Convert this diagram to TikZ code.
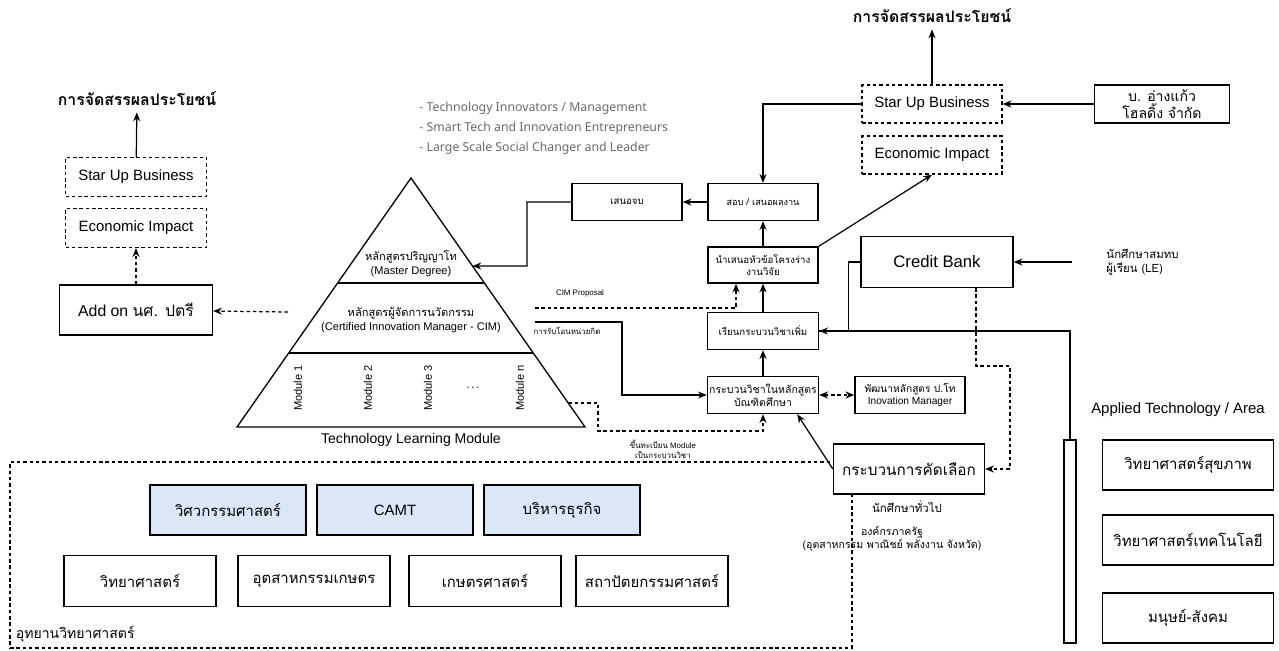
\documentclass[tikz,border=0pt]{standalone}
\usepackage{fontspec}
\setmainfont{Liberation Sans}
\newfontfamily\thai[Script=Thai]{Loma}
\newfontfamily\notefont{Noto Sans}
\usetikzlibrary{arrows.meta,calc}
\definecolor{facblue}{RGB}{218,231,248}
\definecolor{notegray}{RGB}{105,105,105}

\begin{document}
\begin{tikzpicture}[x=0.02cm, y=-0.02cm, >={Stealth[length=5pt,width=4pt]}, line width=0.7pt]

        \tikzstyle{blk}=[rectangle, draw=black, fill=white, line width=0.75pt, align=center, inner sep=1pt]
        \tikzstyle{dblk}=[blk, dash pattern=on 2pt off 1.6pt]
        \tikzstyle{fac}=[blk, fill=facblue]
        \tikzstyle{link}=[->]
        \tikzstyle{dlink}=[->, dash pattern=on 2pt off 1.6pt]
        \tikzset{fontscale/.style = {font={\fontsize{#1pt}{#1pt}\linespread{1.25}\selectfont}}}
        \tikzset{thscale/.style = {font={\fontsize{#1pt}{#1pt}\linespread{1.25}\selectfont\thai}}}
        \tikzset{wh/.style 2 args = {minimum width=#1*0.02cm, minimum height=#2*0.02cm}}

        \useasboundingbox (0,0) rectangle (1279,650);

        % Science park with the faculties
            \node[dblk, fill=none, wh={842}{186}] (park) at (431,555) {};
            \node[thscale=8, anchor=south west] (parklab) at (park.south west) {อุทยานวิทยาศาสตร์};
            \foreach \fx/\fn/\ft in {228/eng/วิศวกรรมศาสตร์, 395/camt/\rmfamily CAMT, 562/biz/บริหารธุรกิจ}
                \node[fac, wh={156}{50}, thscale=8.5] (\fn) at (\fx,510) {\ft};
            \foreach \fx/\fn/\ft in {140/sci/วิทยาศาสตร์, 314/agi/อุตสาหกรรมเกษตร, 485/agr/เกษตรศาสตร์, 652/arch/สถาปัตยกรรมศาสตร์}
                \node[blk, wh={152}{51}, thscale=8.5] (\fn) at (\fx,581) {\ft};

        % Left column: add-on for bachelor students
            \node[thscale=9] (benL) at (137,99) {\bfseries การจัดสรรผลประโยชน์};
            \node[dblk, wh={141}{39}, fontscale=8.5] (startL) at (136,177) {Star Up Business};
            \node[dblk, wh={141}{39}, fontscale=8.5] (econL) at (136,228) {Economic Impact};
            \node[blk, wh={153}{50}, fontscale=9] (addon) at (136,310) {Add on {\thai นศ. ปตรี}};
            \coordinate (cimL) at (288,312);
            \draw[link] (startL) -- (benL);
            \draw[dlink] (addon) -- (econL);
            \draw[dlink] (cimL) -- (addon);

        % Draw the pyramid and its layers
            \coordinate (apex) at (411,178);
            \coordinate (baseL) at (237,427);
            \coordinate (baseR) at (585,427);
            \draw[line width=0.75pt] (apex) -- (baseL) -- (baseR) -- cycle;
            \draw[line width=0.75pt] ($(apex)!0.4217!(baseL)$) -- ($(apex)!0.4217!(baseR)$);
            \draw[line width=0.75pt] ($(apex)!0.7028!(baseL)$) -- ($(apex)!0.7028!(baseR)$);
            \coordinate (mdeg) at ($(apex)!0.3534!(baseR)$);
            \coordinate (mreg) at ($(apex)!0.9036!(baseR)$);
            \node[fontscale=6.3, align=center] (master) at (411,264) {{\thai หลักสูตรปริญญาโท}\\(Master Degree)};
            \node[fontscale=6.3, align=center] (cim) at (411,320) {{\thai หลักสูตรผู้จัดการนวัตกรรม}\\(Certified Innovation Manager - CIM)};
            \foreach \mx/\mt in {298/1, 368/2, 428/3, 520/n}
                \node[fontscale=6.3, rotate=90] (mod-\mt) at (\mx,388) {Module \mt};
            \node[fontscale=6.3] (mdots) at (473,388) {.\,.\,.};
            \node[fontscale=8] (tlm) at (411,440) {Technology Learning Module};
            \node[font=\notefont\fontsize{7}{11.3}\selectfont, text=notegray, align=left, anchor=west] (roles) at (413,128)
                {- Technology Innovators / Management\\- Smart Tech and Innovation Entrepreneurs\\- Large Scale Social Changer and Leader};

        % Middle column: graduate study path
            \node[blk, wh={110}{37}, thscale=5.5] (finish) at (627,202) {เสนอจบ};
            \node[blk, wh={110}{37}, thscale=5.2] (exam) at (763,202) {สอบ / เสนอผลงาน};
            \node[blk, wh={110}{36}, thscale=5.5] (prop) at (763,265) {นำเสนอหัวข้อโครงร่าง\\งานวิจัย};
            \node[blk, wh={111}{37}, thscale=5.5] (extra) at (763,331) {เรียนกระบวนวิชาเพิ่ม};
            \node[blk, wh={111}{37}, thscale=6] (grad) at (763,395) {กระบวนวิชาในหลักสูตร\\บัณฑิตศึกษา};
            \node[blk, wh={110}{37}, fontscale=5.8] (dev) at (910,395) {{\thai พัฒนาหลักสูตร ป.โท}\\Inovation Manager};
            \node[blk, wh={152}{51}, fontscale=9.5] (credit) at (937,262) {Credit Bank};
            \node[blk, wh={151}{50}, thscale=8.7] (select) at (909,469) {กระบวนการคัดเลือก};

        % Top right: spin-off company
            \node[thscale=9] (benR) at (932,16) {\bfseries การจัดสรรผลประโยชน์};
            \node[dblk, wh={140}{38}, fontscale=8.5] (startR) at (932,104) {Star Up Business};
            \node[dblk, wh={140}{38}, fontscale=8.5] (econR) at (932,155) {Economic Impact};
            \node[blk, wh={135}{38}, thscale=8] (angkaew) at (1162,104) {บ. อ่างแก้ว\\โฮลดิ้ง จำกัด};

        % Right column: applied areas
            \node[fontscale=8.5] (applied) at (1178,410) {Applied Technology / Area};
            \foreach \ay/\an/\at in {465/health/วิทยาศาสตร์สุขภาพ, 540/scitech/วิทยาศาสตร์เทคโนโลยี, 618/human/มนุษย์-สังคม}
                \node[blk, wh={171}{50}, thscale=8.5] (\an) at (1188,\ay) {\at};
            \node[blk, wh={12}{203}] (bar) at (1070,541.5) {};

        % Learner labels
            \node[thscale=6.5, align=left, anchor=west] (lejoin) at (1100,262) {นักศึกษาสมทบ\\ผู้เรียน (LE)};
            \coordinate (le) at (1072,262);
            \node[thscale=6.5] (general) at (907,507) {นักศึกษาทั่วไป};
            \node[thscale=6, align=center] (gov) at (892,539) {องค์กรภาครัฐ\\(อุตสาหกรรม พาณิชย์ พลังงาน จังหวัด)};

        % Connect the study path
            \draw[link] (exam) -- (finish);
            \draw[link] (finish.west) -| (527,266) -- (mdeg);
            \draw[link] (startR.west) -| (exam.north);
            \draw[link] (prop) -- (exam);
            \draw[link] (extra) -- (prop);
            \draw[link] (grad) -- (extra);
            \draw[link] (prop.north east) -- (econR.south);
            \draw[link] (startR) -- (benR);
            \draw[link] (angkaew) -- (startR);
            \draw[link] (le) -- (credit);
            \draw (credit.west) -- ++(-12,0) |- (extra.east);
            \draw[link] (bar.north) |- (extra.east);
            \coordinate (cbdrop) at (976,366);
            \draw[dlink] (cbdrop |- credit.south) -- (cbdrop) -- ++(34,0) |- (select.east);
            \draw[link] (select.west) -- ($(grad.south east)+(-22,0)$);
            \draw[dlink, <->] (grad) -- (dev);

        % Links from the pyramid with their labels
            \coordinate (cimp) at (535,308);
            \draw[dlink] (cimp) -| ($(prop.south)+(-27,0)$);
            \node[fontscale=4.5] (cimlab) at (580,293) {CIM Proposal};
            \coordinate (xfer) at (535,322);
            \draw[link] (xfer) -- (622,322) |- (grad.west);
            \node[thscale=4.5] (xferlab) at (567,331) {การรับโอนหน่วยกิต};
            \draw[dlink] (mreg) -| (598,431) -| (grad.south);
            \node[fontscale=4.5, align=center] (reglab) at (663,449) {{\thai ขึ้นทะเบียน} Module\\{\thai เป็นกระบวนวิชา}};

\end{tikzpicture}
\end{document}
